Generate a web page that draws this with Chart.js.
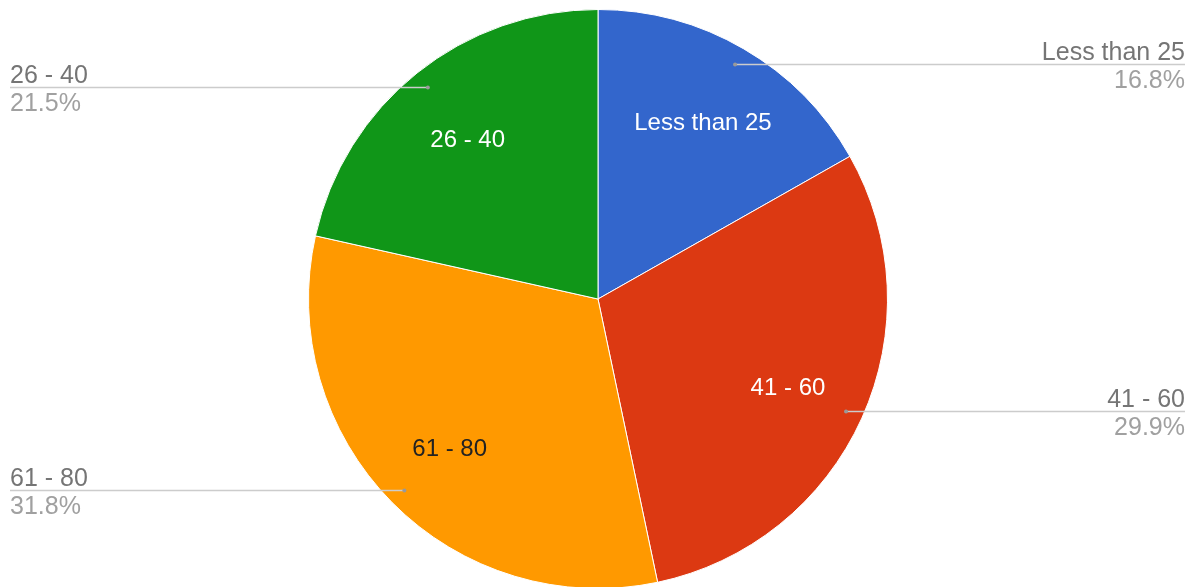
<!DOCTYPE html>
<html>
<head>
<meta charset="utf-8">
<title>Age groups</title>
<script src="https://cdn.jsdelivr.net/npm/chart.js@4.4.0/dist/chart.umd.min.js"></script>
<style>
  html, body { margin: 0; padding: 0; background: #fff; overflow: hidden; }
  #wrap { width: 1200px; height: 589px; position: relative; }
</style>
</head>
<body>
<div id="wrap"><canvas id="ageChart"></canvas></div>
<script>
const labels = ['Less than 25', '41 - 60', '61 - 80', '26 - 40'];
const shares = [16.8, 29.9, 31.8, 21.5];
const sliceColors = ['#3366cc', '#dc3912', '#ff9900', '#109618'];
const insideTextColors = ['#ffffff', '#ffffff', '#222222', '#ffffff'];

const FONT = '"Liberation Sans", Arial, sans-serif';

// draws the slice names inside each slice plus the leader lines with name / percent
const sliceLabels = {
    id: 'sliceLabels',
    afterDatasetsDraw(chart) {
        const c = chart.ctx;
        const meta = chart.getDatasetMeta(0);
        const data = chart.data.datasets[0].data;
        const total = data.reduce((a, b) => a + b, 0);
        const W = chart.width;

        meta.data.forEach((arc, i) => {
            const p = arc.getProps(['x', 'y', 'startAngle', 'endAngle', 'outerRadius'], true);
            const mid = (p.startAngle + p.endAngle) / 2;
            const cos = Math.cos(mid), sin = Math.sin(mid);

            // label inside the slice
            c.save();
            c.font = '24px ' + FONT;
            c.fillStyle = insideTextColors[i];
            c.textAlign = 'center';
            c.textBaseline = 'middle';
            c.fillText(labels[i], p.x + cos * p.outerRadius * 0.72, p.y + sin * p.outerRadius * 0.72 + 4);
            c.restore();

            // leader line
            const dx = p.x + cos * p.outerRadius * 0.94;
            const dy = Math.round(p.y + sin * p.outerRadius * 0.94) + 0.5;
            const right = cos > 0;
            const endX = right ? W - 15 : 10;

            c.save();
            c.strokeStyle = '#cccccc';
            c.lineWidth = 1.5;
            c.beginPath();
            c.moveTo(dx, dy);
            c.lineTo(endX, dy);
            c.stroke();
            c.fillStyle = '#999999';
            c.beginPath();
            c.arc(dx, dy, 2, 0, Math.PI * 2);
            c.fill();

            c.font = '25px ' + FONT;
            c.textAlign = right ? 'right' : 'left';
            c.textBaseline = 'alphabetic';
            c.fillStyle = '#757575';
            c.fillText(labels[i], endX, dy - 5);
            c.fillStyle = '#a0a0a0';
            c.fillText((data[i] / total * 100).toFixed(1) + '%', endX, dy + 23);
            c.restore();
        });
    }
};

const ctx = document.getElementById('ageChart').getContext('2d');
let ageChart = new Chart(ctx, {
    type: 'pie',
    data: {
        labels: labels,
        datasets: [{
            data: shares,
            backgroundColor: sliceColors,
            borderColor: '#ffffff',
            borderWidth: 1
        }]
    },
    options: {
        responsive: true,
        maintainAspectRatio: false,
        animation: false,
        layout: { padding: { top: 9, bottom: 0, left: 0, right: 4 } },
        plugins: {
            legend: { display: false },
            tooltip: { enabled: false }
        }
    },
    plugins: [sliceLabels]
});
</script>
</body>
</html>
